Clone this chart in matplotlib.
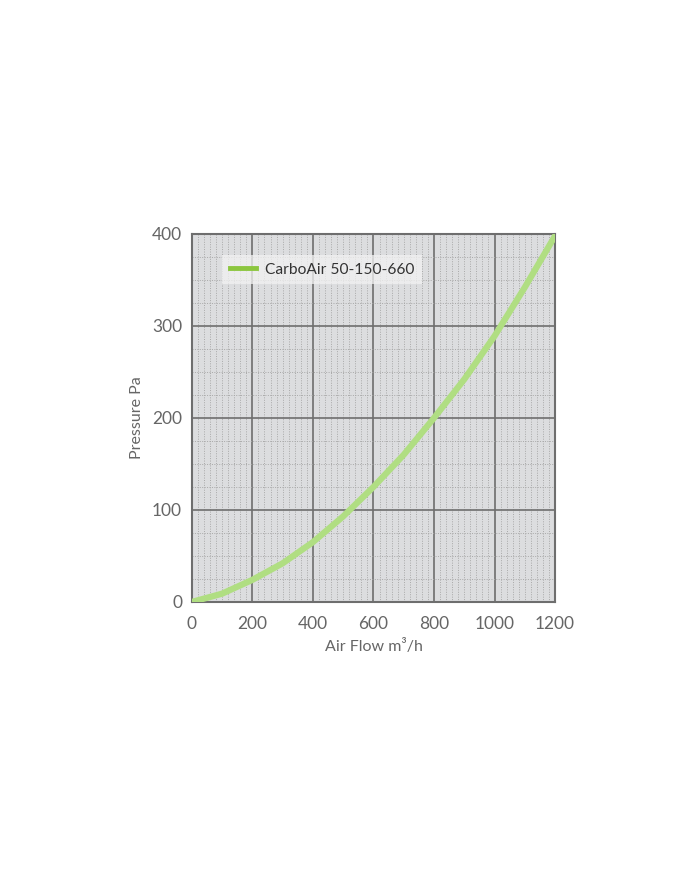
import matplotlib
matplotlib.use("Agg")
import matplotlib.pyplot as plt
from matplotlib.ticker import MultipleLocator
from matplotlib.lines import Line2D

plt.rcParams['font.family'] = ['Lato', 'DejaVu Sans']

airflow = [0, 100, 200, 300, 400, 500, 600, 700, 800, 900, 1000, 1100, 1200]
pressure = [0, 9, 24, 42, 65, 93, 125, 160, 200, 242, 289, 342, 398]
series_label = "CarboAir 50-150-660"
x_ticks = [0, 200, 400, 600, 800, 1000, 1200]
y_ticks = [0, 100, 200, 300, 400]

fig = plt.figure(figsize=(7, 8.69), dpi=100)
ax = fig.add_axes([0.274, 0.3073, 0.519, 0.4235])
ax.set_facecolor('#dcdddf')

ax.plot(airflow, pressure, color='#b0de82', lw=4.5, solid_capstyle='round',
        solid_joinstyle='round', zorder=3)
handle = Line2D([0], [0], color='#8cc63f', lw=3.5)

ax.set_xlim(0, 1200)
ax.set_ylim(0, 400)
ax.set_xticks(x_ticks)
ax.set_yticks(y_ticks)
ax.xaxis.set_minor_locator(MultipleLocator(20))
ax.yaxis.set_minor_locator(MultipleLocator(25))

ax.grid(which='major', color='#6e6e6e', lw=1.2, zorder=1)
ax.grid(which='minor', color='#a8a8a8', lw=0.7, ls=(0, (1, 1.5)), zorder=0)
ax.set_axisbelow(True)

for s in ax.spines.values():
    s.set_color('#6e6e6e')
    s.set_linewidth(1.5)

ax.tick_params(which='both', length=0, colors='#666666', labelsize=12.5)
ax.tick_params(axis='x', pad=10)
ax.tick_params(axis='y', pad=7)

ax.set_xlabel('Air Flow m³/h', color='#666666', fontsize=11.5, labelpad=5)
ax.set_ylabel('Pressure Pa', color='#666666', fontsize=11.5, labelpad=6)

leg = ax.legend([handle], [series_label], loc='upper left', bbox_to_anchor=(0.083, 0.943),
                frameon=True, fancybox=False, framealpha=0.75, edgecolor='none',
                facecolor='#f2f2f2', fontsize=11.2, handlelength=1.7, borderpad=0.5,
                handletextpad=0.55, borderaxespad=0)
for t in leg.get_texts():
    t.set_color('#333333')

fig.savefig('out.png', dpi=100, facecolor='white')
